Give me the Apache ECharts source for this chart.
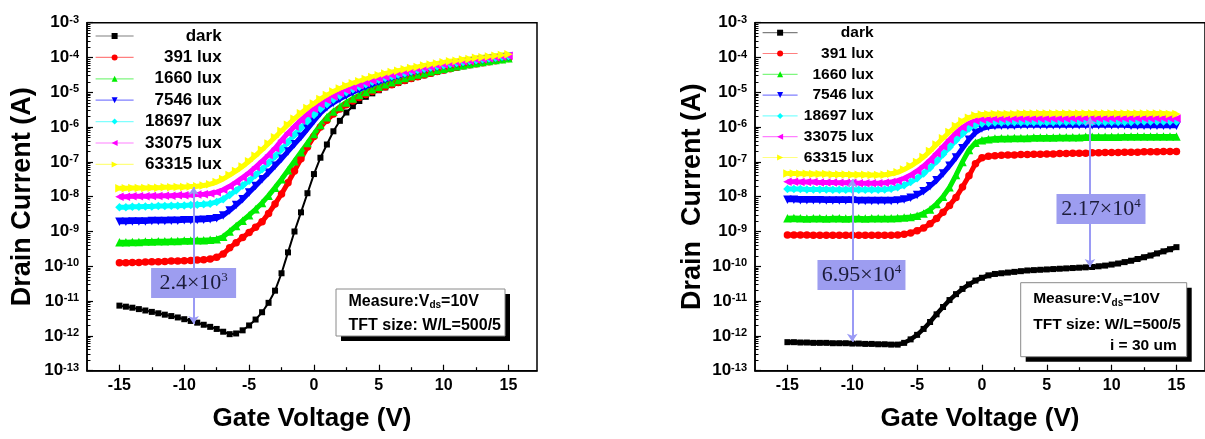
<!DOCTYPE html>
<html><head><meta charset="utf-8">
<script src="https://cdn.jsdelivr.net/npm/echarts@6/dist/echarts.min.js"></script>
<style>html,body{margin:0;padding:0;background:#fff}#c{width:1205px;height:439px}</style>
</head><body><div id="c"></div>
<script>
// Gate voltage (V)
const vgs = [-15,-14.5,-14,-13.5,-13,-12.5,-12,-11.5,-11,-10.5,
 -10,-9.5,-9,-8.5,-8,-7.5,-7,-6.5,-6,-5.5,
 -5,-4.5,-4,-3.5,-3,-2.5,-2,-1.5,-1,-0.5,
 0,0.5,1,1.5,2,2.5,3,3.5,4,4.5,
 5,5.5,6,6.5,7,7.5,8,8.5,9,9.5,
 10,10.5,11,11.5,12,12.5,13,13.5,14,14.5,
 15];
const seriesNames = ['dark','391 lux','1660 lux','7546 lux','18697 lux','33075 lux','63315 lux'];

// Left chart: log10(Drain current / A)
const leftDark = [-11.13,-11.16,-11.19,-11.23,-11.27,-11.31,-11.35,-11.39,-11.43,-11.47,
 -11.52,-11.57,-11.62,-11.68,-11.74,-11.80,-11.88,-11.95,-11.93,-11.84,
 -11.70,-11.53,-11.32,-11.05,-10.70,-10.20,-9.60,-9.00,-8.45,-7.90,
 -7.35,-6.88,-6.50,-6.12,-5.82,-5.58,-5.40,-5.25,-5.13,-5.03,
 -4.94,-4.86,-4.79,-4.73,-4.67,-4.61,-4.56,-4.51,-4.46,-4.41,
 -4.37,-4.33,-4.29,-4.25,-4.22,-4.19,-4.16,-4.13,-4.10,-4.07,
 -4.04];
const left391 = [-9.90,-9.90,-9.89,-9.89,-9.88,-9.87,-9.87,-9.86,-9.85,-9.85,
 -9.84,-9.83,-9.82,-9.81,-9.79,-9.74,-9.65,-9.47,-9.32,-9.17,
 -9.03,-8.88,-8.72,-8.48,-8.21,-7.92,-7.60,-7.26,-6.91,-6.57,
 -6.27,-6.00,-5.80,-5.62,-5.48,-5.36,-5.25,-5.15,-5.06,-4.98,
 -4.91,-4.84,-4.78,-4.72,-4.66,-4.60,-4.55,-4.50,-4.45,-4.40,
 -4.36,-4.32,-4.28,-4.24,-4.21,-4.18,-4.15,-4.12,-4.09,-4.06,
 -4.03];
const left1660 = [-9.31,-9.31,-9.30,-9.30,-9.29,-9.29,-9.28,-9.28,-9.27,-9.27,
 -9.26,-9.26,-9.25,-9.25,-9.24,-9.22,-9.15,-9.00,-8.84,-8.69,
 -8.53,-8.36,-8.18,-7.97,-7.74,-7.50,-7.24,-6.98,-6.72,-6.46,
 -6.20,-5.94,-5.72,-5.55,-5.42,-5.29,-5.18,-5.08,-4.99,-4.91,
 -4.84,-4.77,-4.71,-4.65,-4.59,-4.54,-4.49,-4.45,-4.40,-4.36,
 -4.32,-4.29,-4.25,-4.22,-4.19,-4.16,-4.13,-4.10,-4.07,-4.05,
 -4.02];
const left7546 = [-8.72,-8.72,-8.71,-8.71,-8.71,-8.70,-8.70,-8.70,-8.69,-8.69,
 -8.68,-8.68,-8.67,-8.66,-8.65,-8.62,-8.54,-8.40,-8.24,-8.07,
 -7.88,-7.69,-7.50,-7.31,-7.11,-6.91,-6.70,-6.49,-6.28,-6.05,
 -5.82,-5.60,-5.43,-5.30,-5.19,-5.09,-5.00,-4.92,-4.84,-4.77,
 -4.70,-4.64,-4.58,-4.53,-4.48,-4.43,-4.39,-4.35,-4.31,-4.27,
 -4.24,-4.21,-4.18,-4.15,-4.12,-4.09,-4.07,-4.04,-4.02,-4.00,
 -3.98];
const left18697 = [-8.30,-8.30,-8.29,-8.29,-8.28,-8.28,-8.27,-8.27,-8.26,-8.26,
 -8.25,-8.24,-8.23,-8.22,-8.20,-8.15,-8.07,-7.95,-7.82,-7.68,
 -7.54,-7.38,-7.21,-7.03,-6.84,-6.64,-6.43,-6.22,-6.02,-5.83,
 -5.65,-5.48,-5.34,-5.21,-5.10,-5.00,-4.91,-4.84,-4.77,-4.70,
 -4.64,-4.59,-4.54,-4.49,-4.45,-4.40,-4.36,-4.32,-4.29,-4.25,
 -4.22,-4.19,-4.16,-4.13,-4.10,-4.08,-4.05,-4.03,-4.01,-3.98,
 -3.96];
const left33075 = [-8.00,-8.00,-7.99,-7.99,-7.99,-7.98,-7.98,-7.97,-7.97,-7.96,
 -7.96,-7.95,-7.94,-7.93,-7.91,-7.87,-7.80,-7.70,-7.58,-7.45,
 -7.31,-7.15,-6.98,-6.80,-6.61,-6.38,-6.17,-5.98,-5.80,-5.63,
 -5.48,-5.35,-5.23,-5.12,-5.03,-4.95,-4.87,-4.80,-4.73,-4.67,
 -4.61,-4.56,-4.51,-4.46,-4.42,-4.38,-4.34,-4.30,-4.27,-4.23,
 -4.20,-4.17,-4.14,-4.11,-4.09,-4.06,-4.04,-4.02,-3.99,-3.97,
 -3.95];
const left63315 = [-7.76,-7.76,-7.75,-7.75,-7.75,-7.74,-7.74,-7.73,-7.73,-7.72,
 -7.72,-7.71,-7.70,-7.68,-7.64,-7.58,-7.49,-7.38,-7.26,-7.13,
 -6.98,-6.82,-6.65,-6.47,-6.29,-6.11,-5.93,-5.76,-5.60,-5.45,
 -5.32,-5.19,-5.08,-4.98,-4.89,-4.81,-4.74,-4.68,-4.62,-4.56,
 -4.51,-4.46,-4.42,-4.38,-4.34,-4.30,-4.27,-4.23,-4.20,-4.17,
 -4.14,-4.11,-4.09,-4.06,-4.04,-4.01,-3.99,-3.97,-3.95,-3.93,
 -3.91];

// Right chart: log10(Drain current / A)
const rightDark = [-12.18,-12.18,-12.19,-12.19,-12.20,-12.20,-12.20,-12.21,-12.21,-12.21,
 -12.22,-12.22,-12.23,-12.23,-12.24,-12.24,-12.25,-12.25,-12.20,-12.10,
 -11.97,-11.80,-11.60,-11.38,-11.17,-10.97,-10.80,-10.65,-10.52,-10.41,
 -10.33,-10.26,-10.22,-10.20,-10.18,-10.16,-10.14,-10.12,-10.11,-10.10,
 -10.09,-10.08,-10.07,-10.06,-10.05,-10.04,-10.03,-10.02,-10.00,-9.98,
 -9.95,-9.92,-9.88,-9.84,-9.79,-9.74,-9.69,-9.63,-9.57,-9.51,
 -9.45];
const right391 = [-9.10,-9.10,-9.10,-9.10,-9.11,-9.11,-9.11,-9.11,-9.11,-9.11,
 -9.11,-9.11,-9.11,-9.11,-9.11,-9.11,-9.11,-9.10,-9.08,-9.04,
 -8.98,-8.90,-8.78,-8.63,-8.45,-8.25,-8.02,-7.72,-7.40,-7.05,
 -6.88,-6.84,-6.82,-6.81,-6.80,-6.80,-6.79,-6.79,-6.78,-6.78,
 -6.77,-6.77,-6.76,-6.76,-6.75,-6.75,-6.75,-6.74,-6.74,-6.73,
 -6.73,-6.73,-6.72,-6.72,-6.72,-6.71,-6.71,-6.71,-6.70,-6.70,
 -6.70];
const right1660 = [-8.62,-8.61,-8.62,-8.63,-8.62,-8.62,-8.63,-8.62,-8.62,-8.63,
 -8.62,-8.62,-8.63,-8.62,-8.62,-8.62,-8.62,-8.61,-8.60,-8.58,
 -8.55,-8.48,-8.37,-8.21,-8.00,-7.73,-7.38,-7.00,-6.66,-6.45,
 -6.38,-6.35,-6.33,-6.32,-6.32,-6.31,-6.31,-6.31,-6.30,-6.30,
 -6.30,-6.30,-6.29,-6.29,-6.29,-6.29,-6.28,-6.28,-6.28,-6.28,
 -6.28,-6.28,-6.27,-6.27,-6.27,-6.27,-6.27,-6.27,-6.27,-6.27,
 -6.27];
const right7546 = [-8.09,-8.09,-8.10,-8.10,-8.10,-8.10,-8.11,-8.11,-8.11,-8.11,
 -8.11,-8.12,-8.12,-8.12,-8.12,-8.12,-8.12,-8.11,-8.08,-8.03,
 -7.95,-7.84,-7.70,-7.53,-7.33,-7.11,-6.87,-6.61,-6.36,-6.16,
 -6.04,-5.99,-5.97,-5.96,-5.96,-5.96,-5.95,-5.95,-5.95,-5.95,
 -5.95,-5.95,-5.95,-5.95,-5.95,-5.95,-5.95,-5.95,-5.95,-5.95,
 -5.95,-5.95,-5.95,-5.96,-5.96,-5.96,-5.96,-5.96,-5.96,-5.96,
 -5.96];
const right18697 = [-7.78,-7.78,-7.78,-7.79,-7.79,-7.79,-7.79,-7.80,-7.80,-7.80,
 -7.80,-7.80,-7.80,-7.80,-7.80,-7.79,-7.77,-7.73,-7.67,-7.58,
 -7.47,-7.33,-7.17,-6.98,-6.78,-6.58,-6.38,-6.19,-6.04,-5.95,
 -5.90,-5.88,-5.87,-5.87,-5.86,-5.86,-5.86,-5.86,-5.86,-5.86,
 -5.86,-5.86,-5.85,-5.85,-5.85,-5.85,-5.85,-5.85,-5.85,-5.85,
 -5.85,-5.85,-5.85,-5.85,-5.84,-5.84,-5.84,-5.84,-5.84,-5.84,
 -5.84];
const right33075 = [-7.57,-7.57,-7.58,-7.58,-7.58,-7.59,-7.59,-7.59,-7.60,-7.60,
 -7.60,-7.61,-7.61,-7.61,-7.61,-7.60,-7.58,-7.54,-7.47,-7.38,
 -7.26,-7.12,-6.95,-6.76,-6.56,-6.36,-6.17,-6.01,-5.89,-5.82,
 -5.79,-5.78,-5.77,-5.77,-5.77,-5.76,-5.76,-5.76,-5.76,-5.76,
 -5.76,-5.76,-5.76,-5.76,-5.75,-5.75,-5.75,-5.75,-5.75,-5.75,
 -5.75,-5.75,-5.75,-5.75,-5.75,-5.75,-5.75,-5.75,-5.75,-5.75,
 -5.75];
const right63315 = [-7.33,-7.33,-7.34,-7.34,-7.35,-7.35,-7.35,-7.36,-7.36,-7.36,
 -7.37,-7.37,-7.37,-7.38,-7.38,-7.37,-7.34,-7.30,-7.22,-7.12,
 -7.00,-6.86,-6.69,-6.50,-6.32,-6.14,-5.97,-5.83,-5.73,-5.67,
 -5.64,-5.63,-5.62,-5.62,-5.62,-5.62,-5.61,-5.61,-5.61,-5.61,
 -5.61,-5.61,-5.61,-5.61,-5.61,-5.61,-5.61,-5.61,-5.61,-5.61,
 -5.61,-5.61,-5.61,-5.61,-5.61,-5.61,-5.61,-5.61,-5.61,-5.62,
 -5.62];

const xTickValues = [-15,-10,-5,0,5,10,15];
const xMinorValues = [-12.5,-7.5,-2.5,2.5,7.5,12.5];
const yDecadeExponents = [-13,-12,-11,-10,-9,-8,-7,-6,-5,-4,-3];

// annotations (data coordinates: [V, log10 I])
const leftRatio = {v: -9.28, top: -7.72, bottom: -11.66, boxAt: [-9.28, -10.48], mant: '2.4×10', exp: '3'};
const rightRatio1 = {v: -10.0, top: -7.50, bottom: -12.17, boxAt: [-9.29, -10.25], mant: '6.95×10', exp: '4'};
const rightRatio2 = {v: 8.33, top: -5.72, bottom: -10.02, boxAt: [9.18, -8.35], mant: '2.17×10', exp: '4'};

const leftSets = [leftDark, left391, left1660, left7546, left18697, left33075, left63315];
const rightSets = [rightDark, right391, right1660, right7546, right18697, right33075, right63315];

const FONT = '"Liberation Sans", Arial, sans-serif';
const SERIF = '"Liberation Serif", "Times New Roman", serif';
const colors = ['#000000','#ff0000','#00ee00','#0000ff','#00ffff','#ff00ff','#ffff00'];
const symbols = ['rect','circle','triangle','triangle','diamond','triangle','triangle'];
const rotates = [0,0,0,180,0,90,-90];
const sizes = [6,7.5,8.5,8.5,8.5,8.5,8.5];

const boxLabelRich = {t: {fontFamily: SERIF, fontSize: 22, color: '#1c1c3a', lineHeight: 24},
                      u: {fontFamily: SERIF, fontSize: 13, color: '#1c1c3a', lineHeight: 10, verticalAlign: 'top'}};

function ratioMarks(ratios, widths) {
  return {
    markLine: {
      silent: true, z: 6, symbol: ['arrow','arrow'], symbolSize: 8,
      lineStyle: {color: '#9a9af5', width: 2, type: 'solid'},
      label: {show: false},
      data: ratios.map(r => [{coord: [r.v, r.top]}, {coord: [r.v, r.bottom]}])
    },
    markPoint: {
      silent: true, z: 7, symbol: 'rect',
      itemStyle: {color: '#9d9df0'},
      label: {show: true, position: 'inside', rich: boxLabelRich},
      data: ratios.map((r, i) => ({coord: r.boxAt, symbolSize: [widths[i], 30],
        label: {formatter: '{t|' + r.mant + '}{u|' + r.exp + '}'}}))
    }
  };
}

function buildSeries(sets, axisIdx, darkLineWidth, marks) {
  return sets.map((vals, i) => {
    const s = {
      name: seriesNames[i], type: 'line', xAxisIndex: axisIdx, yAxisIndex: axisIdx,
      data: vgs.map((v, k) => [v, vals[k]]),
      symbol: symbols[i], symbolRotate: rotates[i], symbolSize: sizes[i], showSymbol: true,
      itemStyle: {color: colors[i]},
      lineStyle: {color: colors[i], width: i === 0 ? darkLineWidth : 5},
      z: 2, animation: false, silent: true
    };
    if (i === sets.length - 1) Object.assign(s, marks);
    return s;
  });
}

function xAxes(grid) {
  const base = {type: 'value', gridIndex: grid, min: -17.5, max: 17.2, splitLine: {show: false}, position: 'bottom', offset: 0};
  return [
    Object.assign({}, base, {
      axisLine: {show: true, onZero: false, lineStyle: {color: '#000', width: 1.5}},
      axisTick: {show: true, inside: true, length: 6, customValues: xTickValues, lineStyle: {color: '#000', width: 1.2}},
      axisLabel: {show: true, customValues: xTickValues, margin: 7, color: '#000', fontSize: 16, fontWeight: 'bold', fontFamily: FONT,
        formatter: v => String(v)},
      name: 'Gate Voltage (V)', nameLocation: 'middle', nameGap: 35,
      nameTextStyle: {fontSize: 26, fontWeight: 'bold', color: '#000', fontFamily: FONT}
    }),
    Object.assign({}, base, {
      axisLine: {show: false, onZero: false},
      axisTick: {show: true, inside: true, length: 3.5, customValues: xMinorValues, lineStyle: {color: '#000', width: 1.2}},
      axisLabel: {show: false}
    })
  ];
}

const yMinor = [];
for (let n = -13; n < -3; n++) for (let k = 2; k <= 9; k++) yMinor.push(n + Math.log10(k));

function yAxes(grid, title, gap) {
  const base = {type: 'value', gridIndex: grid, min: -13, max: -3, splitLine: {show: false}, position: 'left', offset: 0};
  return [
    Object.assign({}, base, {
      interval: 1,
      axisLine: {show: true, onZero: false, lineStyle: {color: '#000', width: 1.5}},
      axisTick: {show: true, inside: true, length: 6, lineStyle: {color: '#000', width: 1.2}},
      axisLabel: {show: true, margin: 8, color: '#000', fontFamily: FONT,
        formatter: v => yDecadeExponents.indexOf(v) >= 0 ? '{b|10}{s|' + v + '}' : '',
        rich: {b: {fontSize: 17, fontWeight: 'bold', fontFamily: FONT, color: '#000', lineHeight: 17},
               s: {fontSize: 11, fontWeight: 'bold', fontFamily: FONT, color: '#000', lineHeight: 8, verticalAlign: 'top'}}},
      name: title, nameLocation: 'middle', nameGap: gap,
      nameTextStyle: {fontSize: 27, fontWeight: 'bold', color: '#000', fontFamily: FONT}
    }),
    Object.assign({}, base, {
      axisLine: {show: false, onZero: false},
      axisTick: {show: true, inside: true, length: 3.5, customValues: yMinor, lineStyle: {color: '#000', width: 1}},
      axisLabel: {show: false}
    })
  ];
}

function legend(left, top, iw, gap, tw, fs) {
  return {
    orient: 'vertical', left: left, top: top, padding: 0, itemWidth: iw, itemHeight: 7.5, itemGap: gap,
    selectedMode: false, data: seriesNames,
    lineStyle: {width: 1.2, opacity: 0.5},
    formatter: '{n|{name}}',
    textStyle: {rich: {n: {width: tw, align: 'right', fontSize: fs, fontWeight: 'bold', fontFamily: FONT, color: '#000', lineHeight: 14}}}
  };
}

function measureBox(x, y, w, h, lines, fs, rightLine) {
  const els = [
    {type: 'rect', z: 20, shape: {x: x + 5, y: y + 5, width: w, height: h}, style: {fill: '#000'}},
    {type: 'rect', z: 21, shape: {x: x, y: y, width: w, height: h}, style: {fill: '#fff', stroke: '#8a8a8a', lineWidth: 1}},
    {type: 'text', z: 22, x: x + 12.5, y: lines[0], style: {text: '{a|Measure:V}{s|ds}{a|=10V}', verticalAlign: 'middle',
      rich: {a: {fontSize: fs, fontWeight: 'bold', fontFamily: FONT, fill: '#000', color: '#000', lineHeight: fs + 2},
             s: {fontSize: 10, fontWeight: 'bold', fontFamily: FONT, fill: '#000', color: '#000', lineHeight: 8, verticalAlign: 'bottom'}}}},
    {type: 'text', z: 22, x: x + 12.5, y: lines[1], style: {text: 'TFT size: W/L=500/5', verticalAlign: 'middle', fontSize: fs, fontWeight: 'bold', fontFamily: FONT, fill: '#000'}}
  ];
  if (rightLine) els.push({type: 'text', z: 22, x: rightLine[0], y: lines[2], style: {text: 'i = 30 um', align: 'right', verticalAlign: 'middle', fontSize: fs, fontWeight: 'bold', fontFamily: FONT, fill: '#000'}});
  return els;
}

const chart = echarts.init(document.getElementById('c'), null, {renderer: 'canvas'});
chart.setOption({
  animation: false,
  backgroundColor: '#fff',
  grid: [
    {left: 87, top: 22.7, width: 450, height: 348, show: true, borderColor: '#000', borderWidth: 1.5, backgroundColor: 'transparent'},
    {left: 755, top: 22.7, width: 451, height: 348, show: true, borderColor: '#000', borderWidth: 1.5, backgroundColor: 'transparent'}
  ],
  xAxis: xAxes(0).concat(xAxes(1)),
  yAxis: yAxes(0, 'Drain Current (A)', 51).concat(yAxes(1, 'Drain  Current (A)', 49)),
  legend: [legend(95, 27.5, 38, 4.4, 83, 17), legend(762, 24.7, 35, 4.8, 71, 15.5)],
  series: buildSeries(leftSets, 0, 2, ratioMarks([leftRatio], [85]))
    .concat(buildSeries(rightSets, 2, 4.5, ratioMarks([rightRatio1, rightRatio2], [88, 89]))),
  graphic: measureBox(336, 289, 169, 47, [301.7, 325.7], 16, null)
    .concat(measureBox(1020.7, 282.7, 166, 74, [299, 324.3, 345.7], 15.5, [1176.7]))
});
</script>
</body></html>
